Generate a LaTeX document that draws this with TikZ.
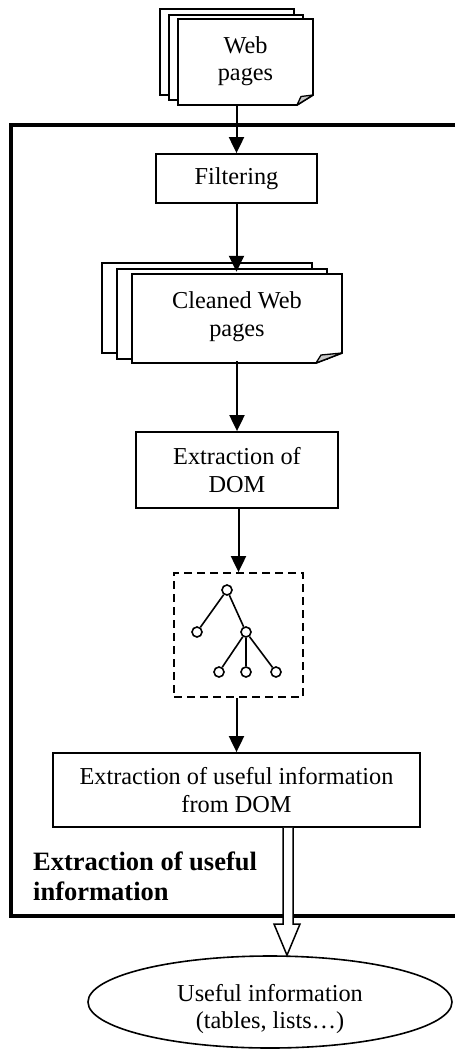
\documentclass[tikz,border=0pt]{standalone}
\usepackage{fontspec}
\setmainfont{Liberation Serif}
\usetikzlibrary{arrows.meta,shapes.geometric}

\tikzset{
  txt/.style={font=\fontsize{24.3}{27.5}\selectfont, align=center},
  procbox/.style={txt, draw, line width=1.8pt, fill=white, inner sep=0pt},
  sheet/.style={draw, line width=1.8pt, fill=white, line join=miter},
  foldtri/.style={draw, line width=1.3pt, fill=black!22, line join=round},
  arr/.style={line width=2pt, -{Triangle[length=16pt,width=15pt]}},
  frameline/.style={line width=4pt},
  treenode/.style={circle, draw, line width=1.6pt, minimum size=10pt, inner sep=0pt, fill=white},
  treeedge/.style={line width=1.6pt},
  hollow/.style={draw, line width=1.5pt, fill=white, line join=miter},
}

\begin{document}
\begin{tikzpicture}[x=1pt, y=-1pt]
\useasboundingbox (0,0) rectangle (455,1051);

% outer frame of the extraction stage (open on the right)
\draw[frameline] (455,125) -- (11,125) -- (11,916) -- (455,916);

% ---- stack of web pages ----
\draw[sheet] (160,9) rectangle (294,95);
\draw[sheet] (169,15) rectangle (303,100);
\draw[sheet] (178,19) -- (313,19) -- (313,95) -- (297,105) -- (178,105) -- cycle;
\draw[foldtri] (297,105) -- (313,95) -- (301,96.5) -- cycle;
\node[txt, minimum width=135pt, minimum height=86pt, inner sep=0pt] (web) at (245.5,61) {Web\\pages};

% ---- filtering ----
\node[procbox, minimum width=161pt, minimum height=49pt] (filter) at (236.5,178.5) {Filtering};

% ---- stack of cleaned pages ----
\draw[sheet] (102,263) rectangle (312,353);
\draw[sheet] (117,269) rectangle (327,359);
\draw[sheet] (132,274) -- (342,274) -- (342,353) -- (316,363) -- (132,363) -- cycle;
\draw[foldtri] (316,363) -- (342,353) -- (321,355) -- cycle;
\node[txt, minimum width=210pt, minimum height=89pt, inner sep=0pt] (clean) at (237,316.5) {Cleaned Web\\pages};

% ---- DOM extraction ----
\node[procbox, minimum width=202pt, minimum height=76pt] (dom) at (237,470) {Extraction of\\DOM};

% ---- DOM tree ----
\node[draw, dashed, dash pattern=on 8pt off 5pt, line width=1.8pt, minimum width=129pt, minimum height=124pt, inner sep=0pt] (tree) at (238.5,635) {};
\node[treenode] (r)  at (227,590) {};
\node[treenode] (a)  at (197,632) {};
\node[treenode] (b)  at (246,632) {};
\node[treenode] (b1) at (219,672) {};
\node[treenode] (b2) at (246,672) {};
\node[treenode] (b3) at (276,672) {};
\draw[treeedge] (r) -- (a);
\draw[treeedge] (r) -- (b);
\draw[treeedge] (b) -- (b1);
\draw[treeedge] (b) -- (b2);
\draw[treeedge] (b) -- (b3);

% ---- useful information extraction ----
\node[procbox, minimum width=367pt, minimum height=74pt] (useful) at (236.5,790) {Extraction of useful information\\from DOM};

% ---- stage label ----
\node[font=\fontsize{26.5}{30}\selectfont\bfseries, align=left, anchor=north west, inner sep=0pt] (stage) at (33,852) {Extraction of useful\\information};

% ---- result ----
\node[ellipse, draw, line width=1.6pt, minimum width=364pt, minimum height=92pt, inner sep=0pt] (result) at (270,1002) {};
\node[txt, inner sep=0pt] (resulttext) at ([yshift=-7pt]result.center) {Useful information\\(tables, lists\ldots)};

% ---- connectors ----
\draw[arr] (web.south -| filter.north) -- (filter.north);
\draw[arr] (filter) -- (clean.north -| filter);
\draw[arr] (clean.south -| dom.north) -- (dom.north);
\draw[arr] (dom.south -| tree.north) -- (tree.north);
\draw[arr] (tree.south -| useful.north) -- (useful.north);

% hollow arrow from the stage to its result
\coordinate (hs) at (useful.south -| result.north);
\draw[hollow] ([xshift=-5pt]hs -| 288,0) -- (283,924) -- (274,924) -- (result.north -| 287,0) -- (300,924) -- (293,924) -- ([xshift=5pt]hs -| 288,0);
\end{tikzpicture}
\end{document}
